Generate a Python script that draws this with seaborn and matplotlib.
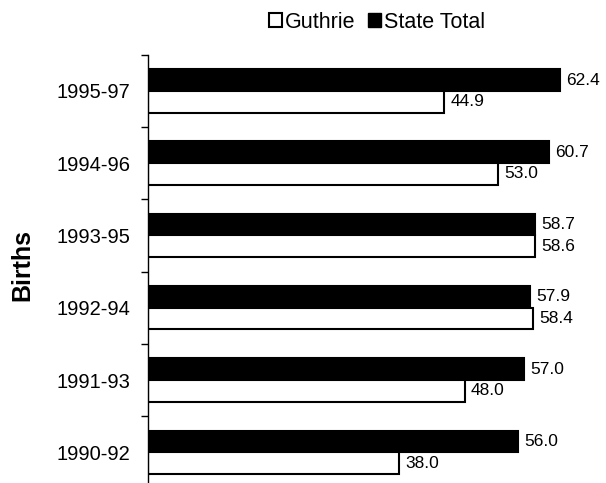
import matplotlib
matplotlib.use("Agg")
import matplotlib.pyplot as plt
from matplotlib.patches import Patch
import seaborn as sns
import pandas as pd

periods = ["1995-97", "1994-96", "1993-95", "1992-94", "1991-93", "1990-92"]
guthrie = [44.9, 53.0, 58.6, 58.4, 48.0, 38.0]
state_total = [62.4, 60.7, 58.7, 57.9, 57.0, 56.0]
series = ["Guthrie", "State Total"]

sns.set_style("white")
plt.rcParams["font.family"] = ["Liberation Sans", "DejaVu Sans"]
plt.rcParams["text.color"] = "black"
plt.rcParams["axes.labelcolor"] = "black"
plt.rcParams["ytick.color"] = "black"
plt.rcParams["xtick.color"] = "black"

df = pd.DataFrame({
    "Period": periods * 2,
    "Value": state_total + guthrie,
    "Series": ["State Total"] * len(periods) + ["Guthrie"] * len(periods),
})

fig = plt.figure(figsize=(6.06, 4.83), dpi=100)
ax_left = 148 / 606
ax_w = 462 / 606
top_px, bot_px = 54.7, 488.5
ax = fig.add_axes([ax_left, (483 - bot_px) / 483, ax_w, (bot_px - top_px) / 483])

sns.barplot(data=df, x="Value", y="Period", hue="Series", order=periods,
            hue_order=["State Total", "Guthrie"],
            palette={"State Total": "black", "Guthrie": "white"},
            width=0.6, orient="h", ax=ax, legend=False, saturation=1)

for cont in ax.containers:
    for p in cont.patches:
        p.set_edgecolor("black")
        p.set_linewidth(1.5)
    ax.bar_label(cont, fmt="%.1f", padding=4.5, fontsize=12.5, color="black")

ax.set_xlim(0, 70)
ax.set_ylim(len(periods) - 0.5, -0.5)
ax.set_xticks([])
ax.set_xlabel("")
ax.set_ylabel("")
for s in ["top", "right", "bottom"]:
    ax.spines[s].set_visible(False)
ax.spines["left"].set_color("black")
ax.spines["left"].set_linewidth(1.0)
ax.tick_params(axis="y", which="major", left=False, length=0, pad=12.5, labelsize=14.5,
               labelcolor="black")
ax.set_yticks([i - 0.5 for i in range(len(periods) + 1)], minor=True)
ax.tick_params(axis="y", which="minor", left=True, length=5, width=1, color="black",
               direction="out")

fig.text(22 / 606, 1 - 265 / 483, "Births", rotation=90, ha="center", va="center",
         fontsize=18, fontweight="bold", color="black")

handles = [Patch(facecolor="white", edgecolor="black", linewidth=1.5, label="Guthrie"),
           Patch(facecolor="black", edgecolor="black", label="State Total")]
fig.legend(handles=handles, loc="center", bbox_to_anchor=(377 / 606, 1 - 22 / 483),
           ncol=2, frameon=False, fontsize=15.5, handlelength=0.6, handleheight=0.6,
           handletextpad=0.15, columnspacing=0.55, labelcolor="black",
           borderpad=0, borderaxespad=0)

fig.savefig("out.png", dpi=100)
